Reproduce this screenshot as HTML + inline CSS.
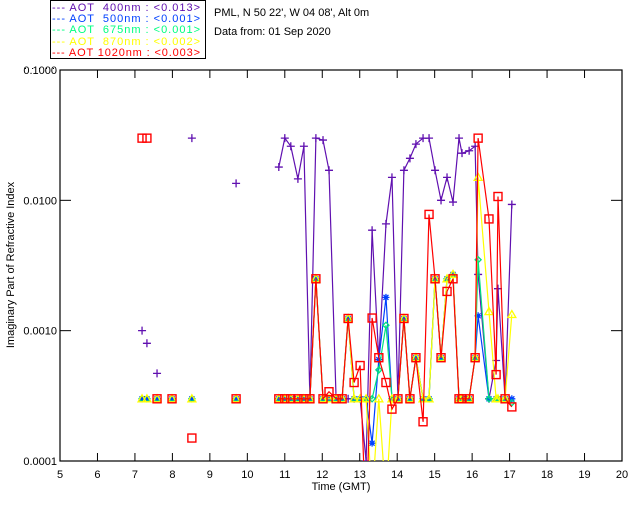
<!DOCTYPE html>
<html><head><meta charset="utf-8"><style>
body{margin:0;background:#fff;width:640px;height:512px;overflow:hidden}
svg{display:block;font-family:"Liberation Sans",sans-serif}
</style></head><body>
<svg id="chart" width="640" height="512" xmlns="http://www.w3.org/2000/svg">
<defs><clipPath id="clip"><rect x="60" y="70" width="562" height="391"/></clipPath></defs>
<g>
<rect x="50.5" y="0.5" width="155" height="58" fill="#fff" stroke="#000"/>
<g font-size="11">
<text x="52" y="11" fill="#6010b0" textLength="148" lengthAdjust="spacing" xml:space="preserve">--- AOT  400nm : &lt;0.013&gt;</text>
<text x="52" y="22" fill="#0040ff" textLength="148" lengthAdjust="spacing" xml:space="preserve">--- AOT  500nm : &lt;0.001&gt;</text>
<text x="52" y="33" fill="#00ff80" textLength="148" lengthAdjust="spacing" xml:space="preserve">--- AOT  675nm : &lt;0.001&gt;</text>
<text x="52" y="45" fill="#ffff00" textLength="148" lengthAdjust="spacing" xml:space="preserve">--- AOT  870nm : &lt;0.002&gt;</text>
<text x="52" y="56" fill="#ff0000" textLength="148" lengthAdjust="spacing" xml:space="preserve">--- AOT 1020nm : &lt;0.003&gt;</text>
</g></g>
<text x="214" y="16" font-size="11">PML, N 50 22', W 04 08', Alt 0m</text>
<text x="214" y="35" font-size="11">Data from: 01 Sep 2020</text>
<g fill="#000"><rect x="25" y="68" width="1" height="1"/><rect x="32" y="68" width="1" height="1"/><rect x="39" y="68" width="1" height="1"/><rect x="46" y="68" width="1" height="1"/><rect x="53" y="68" width="1" height="1"/></g>
<rect x="60" y="70" width="562" height="391" fill="none" stroke="#000" stroke-width="1.2"/>
<g id="axes"></g>
<g id="series" clip-path="url(#clip)"></g>
<text x="341" y="490" font-size="11" text-anchor="middle">Time (GMT)</text>
<text transform="translate(14,265) rotate(-90)" font-size="11" text-anchor="middle">Imaginary Part of Refractive Index</text>
</svg>
<script>
const xTicks=[5,6,7,8,9,10,11,12,13,14,15,16,17,18,19,20];
const yTicks=[0.1,0.01,0.001,0.0001];
const yTickLabels=["0.1000","0.0100","0.0010","0.0001"];
const earlyTimes=[7.19,7.32,7.59,7.99,8.52,9.70];
const earlyP=[0.001,0.0008,0.00047,null,0.03,0.0135];
const earlyB=[0.0003,0.0003,0.0003,0.0003,0.0003,0.0003];
const earlyG=[0.0003,0.0003,0.0003,0.0003,0.0003,0.0003];
const earlyY=[0.0003,0.0003,0.0003,0.0003,0.0003,0.0003];
const earlyR=[0.03,0.03,0.0003,0.0003,0.00015,0.0003];
const times=[10.84,11.00,11.16,11.35,11.51,11.67,11.83,12.02,12.18,12.37,12.53,12.69,12.85,13.01,13.17,13.33,13.51,13.70,13.86,14.02,14.18,14.34,14.50,14.69,14.85,15.01,15.17,15.33,15.49,15.65,15.73,15.92,16.08,16.16,16.45,16.64,16.69,16.88,17.06];
const purple=[0.018,0.03,0.026,0.0146,0.026,0.0003,0.03,0.029,0.017,0.0003,0.0003,0.0003,0.0003,0.0003,0.0001,0.0059,0.0006,0.0066,0.015,0.0003,0.017,0.021,0.027,0.03,0.03,0.017,0.01,0.015,0.0097,0.03,0.023,0.024,0.026,0.0027,0.0003,0.00059,0.0021,0.0003,0.0093];
const blue=[0.0003,0.0003,0.0003,0.0003,0.0003,0.0003,0.0025,0.0003,0.0003,0.0003,0.0003,0.00124,0.0003,0.0003,0.0003,0.000137,0.0006,0.0018,0.0003,0.0003,0.00124,0.0003,0.00062,0.0003,0.0003,0.0025,0.00062,0.0025,0.0027,0.0003,0.0003,0.0003,0.00062,0.0013,0.0003,0.0003,0.0003,0.0003,0.0003];
const green=[0.0003,0.0003,0.0003,0.0003,0.0003,0.0003,0.0025,0.0003,0.0003,0.0003,0.0003,0.00124,0.0003,0.0003,0.0003,0.0003,0.0005,0.0011,0.0003,0.0003,0.00124,0.0003,0.00062,0.0003,0.0003,0.0025,0.00062,0.0025,0.0027,0.0003,0.0003,0.0003,0.00062,0.0035,0.0003,0.0003,0.0003,0.0003,0.00028];
const yellow=[0.0003,0.0003,0.0003,0.0003,0.0003,0.0003,0.0025,0.0003,0.0003,0.0003,0.0003,0.00124,0.0003,0.0003,0.0003,0.00005,0.0003,0.00005,0.0003,0.0003,0.00124,0.0003,0.00062,0.0003,0.0003,0.0025,0.00062,0.0025,0.0027,0.0003,0.0003,0.0003,0.00062,0.015,0.0014,0.0003,0.0003,0.0003,0.00133];
const red=[0.0003,0.0003,0.0003,0.0003,0.0003,0.0003,0.0025,0.0003,0.00034,0.0003,0.0003,0.00124,0.0004,0.00054,0.00003,0.00125,0.00062,0.0004,0.00025,0.0003,0.00124,0.0003,0.00062,0.0002,0.0078,0.0025,0.00062,0.002,0.0025,0.0003,0.0003,0.0003,0.00062,0.03,0.0072,0.00046,0.0107,0.0003,0.00026];

const NS="http://www.w3.org/2000/svg";
function X(h){return 60+(h-5)*562/15;}
function Y(v){return 70+(-1-Math.log10(v))*130.33;}
function mk(tag,attrs,parent){const e=document.createElementNS(NS,tag);for(const k in attrs)e.setAttribute(k,attrs[k]);parent.appendChild(e);return e;}
const axes=document.getElementById('axes');
xTicks.forEach(t=>{
  const x=X(t);
  if(t>5&&t<20){
    const a=mk('line',{x1:x,x2:x,y1:461,y2:453,stroke:'#000'},axes);
    
    
    const b=mk('line',{x1:x,x2:x,y1:70,y2:78,stroke:'#000'},axes);
    
    
  }
  const l=mk('text',{x:x,y:478,'font-size':11,'text-anchor':'middle'},axes);
  l.textContent=t;
  
  
});
yTicks.forEach((v,i)=>{
  const y=Y(v);
  if(i>0&&i<3){
    const a=mk('line',{x1:60,x2:71,y1:y,y2:y,stroke:'#000'},axes);
    
    
    const b=mk('line',{x1:611,x2:622,y1:y,y2:y,stroke:'#000'},axes);
    
    
  }
  const l=mk('text',{x:57,y:y+4,'font-size':11,'text-anchor':'end'},axes);
  l.textContent=yTickLabels[i];
  
  
});
const sg=document.getElementById('series');
function marker(kind,x,y,c,g){
  let e;
  if(kind==='plus'){e=mk('path',{d:`M${x-4},${y}H${x+4}M${x},${y-4}V${y+4}`,stroke:c,'stroke-width':1.3,fill:'none'},g);}
  else if(kind==='star'){e=mk('path',{d:`M${x-3.5},${y}H${x+3.5}M${x},${y-3.5}V${y+3.5}M${x-2.5},${y-2.5}L${x+2.5},${y+2.5}M${x-2.5},${y+2.5}L${x+2.5},${y-2.5}`,stroke:c,'stroke-width':1.3,fill:'none'},g);}
  else if(kind==='diamond'){e=mk('path',{d:`M${x},${y-3}L${x+3},${y}L${x},${y+3}L${x-3},${y}Z`,stroke:c,'stroke-width':1.3,fill:'none'},g);}
  else if(kind==='tri'){e=mk('path',{d:`M${x},${y-4}L${x+4},${y+3}L${x-4},${y+3}Z`,stroke:c,'stroke-width':1.3,fill:'none'},g);}
  else {e=mk('rect',{x:x-4,y:y-4,width:8,height:8,stroke:c,'stroke-width':1.4,fill:'none'},g);}
  
  
}
const defs=[['aot-400nm',purple,earlyP,'#6010b0','plus'],['aot-500nm',blue,earlyB,'#0040ff','star'],['aot-675nm',green,earlyG,'#00e080','diamond'],['aot-870nm',yellow,earlyY,'#ffff00','tri'],['aot-1020nm',red,earlyR,'#ff0000','square']];
defs.forEach(([name,vals,early,c,kind])=>{
  const g=mk('g',{},sg);
  
  
  let d='';let started=false;
  times.forEach((t,i)=>{const v=vals[i];if(v==null){started=false;return;}d+=(started?'L':'M')+X(t).toFixed(1)+','+Y(v).toFixed(1);started=true;});
  const p=mk('path',{d:d,stroke:c,'stroke-width':1.2,fill:'none'},g);
  
  
  times.forEach((t,i)=>{if(vals[i]!=null)marker(kind,X(t),Y(vals[i]),c,g);});
  earlyTimes.forEach((t,i)=>{if(early[i]!=null)marker(kind,X(t),Y(early[i]),c,g);});
});
</script>
</body></html>
